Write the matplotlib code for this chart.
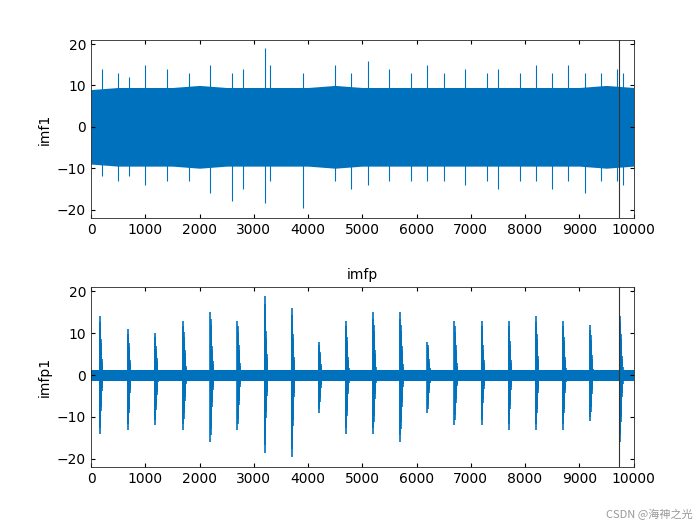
import matplotlib
matplotlib.use("Agg")
import matplotlib.pyplot as plt

plt.rcParams['font.family'] = ['DejaVu Sans']
C = '#0072BD'

# --- data ---
env_x = [0, 500, 1000, 1500, 2000, 2500, 3000, 3500, 4000, 4500, 5000,
         5500, 6000, 6500, 7000, 7500, 8000, 8500, 9000, 9500, 10000]
top_upper = [9, 9.5, 9.5, 9.5, 10, 9.5, 9.5, 9.5, 9.5, 10, 9.5,
             9.5, 9.5, 9.5, 9.5, 9.5, 9.5, 9.5, 9.5, 10, 9.5]
top_lower = [-9, -9.5, -9.5, -9.5, -10, -9.5, -9.5, -9.5, -9.5, -10, -9.5,
             -9.5, -9.5, -9.5, -9.5, -9.5, -9.5, -9.5, -9.5, -10, -9.5]
top_spike_x = [200, 500, 700, 1000, 1400, 1800, 2200, 2600, 2800, 3200, 3300, 3900,
               4500, 4800, 5100, 5500, 5900, 6200, 6500, 6900, 7300, 7500, 7900, 8200,
               8500, 8800, 9100, 9400, 9700, 9800]
top_spike_hi = [14, 13, 12, 15, 14, 13, 15, 13, 14, 19, 15, 13,
                15, 13, 16, 14, 13, 15, 13, 14, 13, 14, 13, 15,
                13, 15, 13, 13, 14, 13]
top_spike_lo = [-12, -13, -12, -14, -13, -13, -16, -18, -15, -18.5, -13, -19.5,
                -13, -15, -14, -13, -13, -13, -13, -14, -13, -15, -13, -13,
                -15, -13, -16, -13, -13, -14]

bot_upper = [1.3] * 21
bot_lower = [-1.3] * 21
burst_x = [160, 680, 1180, 1700, 2200, 2700, 3200, 3700, 4200, 4700,
           5200, 5700, 6200, 6700, 7200, 7700, 8200, 8700, 9200, 9750]
burst_hi = [14, 11, 10, 13, 15, 13, 19, 16, 8, 13,
            15, 15, 8, 13, 13, 13, 14, 13, 12, 14]
burst_lo = [-14, -13, -12, -13, -16, -13, -18.5, -19.5, -9, -14,
            -14, -16, -9, -12, -12, -13, -13, -13, -11, -16]
clip_x = [9740]

fig = plt.figure(figsize=(7, 5.25), dpi=100)
ax1 = fig.add_axes([0.13, 0.585, 0.775, 0.339])
ax2 = fig.add_axes([0.13, 0.11, 0.775, 0.343])

ax1.fill_between(env_x, top_lower, top_upper, color=C, lw=0)
ax1.vlines(top_spike_x, top_spike_lo, top_spike_hi, color=C, lw=0.8)
ax1.vlines(clip_x, -30, 30, color='#333333', lw=0.8)

ax2.fill_between(env_x, bot_lower, bot_upper, color=C, lw=0)
fracs = [1, 0.9, 0.8, 0.7, 0.62, 0.55, 0.47, 0.4, 0.33, 0.27, 0.22, 0.17, 0.13]
for p, h, l in zip(burst_x, burst_hi, burst_lo):
    ax2.vlines([p + 4 * i for i in range(len(fracs))],
               [l * f for f in fracs], [h * f for f in fracs], color=C, lw=1.2)
ax2.vlines(clip_x, -30, 30, color='#333333', lw=0.8)
ax2.set_title('imfp', fontsize=10)

for ax, lab in ((ax1, 'imf1'), (ax2, 'imfp1')):
    ax.set_xlim(0, 10000)
    ax.set_ylim(-22, 21)
    ax.set_xticks(range(0, 10001, 1000))
    ax.set_yticks([-20, -10, 0, 10, 20])
    ax.set_ylabel(lab, fontsize=10)
    ax.tick_params(direction='in', top=True, right=True, labelsize=10, length=3)
    for s in ax.spines.values():
        s.set_color('#262626'); s.set_linewidth(0.6)

fig.text(0.99, 0.01, 'CSDN @海神之光', ha='right', va='bottom', fontsize=8,
         color='#999999', family=['Noto Sans CJK SC', 'DejaVu Sans'])
fig.savefig('out.png', dpi=100)
